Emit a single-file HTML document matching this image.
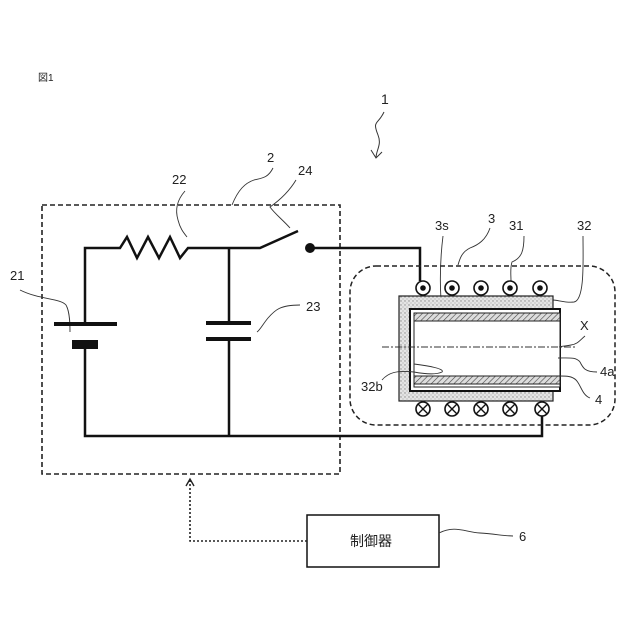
<!DOCTYPE html><html><head><meta charset="utf-8"><style>body{margin:0;background:#fff}svg{display:block}text{font-family:"Liberation Sans","Noto Sans CJK JP",sans-serif;fill:#222}</style></head><body>
<svg width="640" height="640" viewBox="0 0 640 640">
<defs>
<pattern id="dots" width="4" height="4" patternUnits="userSpaceOnUse"><rect width="4" height="4" fill="#e4e4e4"/><circle cx="1" cy="1" r="0.7" fill="#888"/><circle cx="3" cy="3" r="0.6" fill="#aaa"/></pattern>
<pattern id="hatch" width="4" height="4" patternUnits="userSpaceOnUse" patternTransform="rotate(45)"><rect width="4" height="4" fill="#ddd"/><line x1="0" y1="0" x2="0" y2="4" stroke="#444" stroke-width="1.2"/></pattern>
</defs>
<text x="38" y="81" font-size="10">図1</text>
<text x="381" y="104" font-size="14">1</text>
<path d="M384 112 C378 125,372 120,378 135 C382 145,376 150,376 158" fill="none" stroke="#333" stroke-width="1"/>
<path d="M371 150 L376 158 L382 152" fill="none" stroke="#333" stroke-width="1"/>
<!-- box 2 -->
<rect x="42" y="205" width="298" height="269" fill="none" stroke="#222" stroke-width="1.6" stroke-dasharray="5,3"/>
<text x="267" y="162" font-size="13">2</text>
<path d="M273 168 C268 178,262 178,254 180 C245 183,238 190,232 205" fill="none" stroke="#333" stroke-width="0.9"/>
<text x="172" y="184" font-size="13">22</text>
<path d="M185 191 C177 200,175 210,178 220 C180 228,183 232,187 237" fill="none" stroke="#333" stroke-width="0.9"/>
<text x="298" y="175" font-size="13">24</text>
<path d="M296 180 C290 190,280 200,270 207 C275 214,283 220,290 228" fill="none" stroke="#333" stroke-width="0.9"/>
<text x="306" y="311" font-size="13">23</text>
<path d="M300 305 C280 305,275 310,268 318 C263 324,260 330,257 332" fill="none" stroke="#333" stroke-width="0.9"/>
<text x="10" y="280" font-size="13">21</text>
<path d="M20 290 C40 300,60 298,66 305 C70 312,70 325,70 332" fill="none" stroke="#333" stroke-width="0.9"/>
<g stroke="#111" stroke-width="2.5" fill="none">
<polyline points="85,323 85,248 120,248 127,237 137,258 148,237 159,258 170,237 180,258 188,248 260,248 298,231"/>
<line x1="229" y1="248" x2="229" y2="323"/>
<line x1="229" y1="339" x2="229" y2="436"/>
<polyline points="85,348 85,436 542,436 542,416"/>
<polyline points="310,248 420,248 420,281"/>
</g>
<circle cx="310" cy="248" r="5" fill="#111"/>
<rect x="54" y="322" width="63" height="4" fill="#111"/>
<rect x="72" y="340" width="26" height="9" fill="#111"/>
<rect x="206" y="321" width="45" height="4" fill="#111"/>
<rect x="206" y="337" width="45" height="4" fill="#111"/>
<!-- coil box -->
<rect x="350" y="266" width="265" height="159" rx="26" fill="none" stroke="#222" stroke-width="1.5" stroke-dasharray="5,3"/>
<text x="488" y="223" font-size="13">3</text>
<path d="M490 228 C486 240,478 245,470 248 C462 252,460 258,458 265" fill="none" stroke="#333" stroke-width="0.9"/>
<text x="435" y="230" font-size="13">3s</text>
<path d="M443 236 C440 260,438 300,446 335" fill="none" stroke="#333" stroke-width="0.9"/>
<text x="509" y="230" font-size="13">31</text>
<path d="M524 236 C524 250,522 258,512 262 C510 268,511 275,511 281" fill="none" stroke="#333" stroke-width="0.9"/>
<text x="577" y="230" font-size="13">32</text>
<path d="M583 236 C583 260,585 300,574 302 C565 303,558 300,553 300" fill="none" stroke="#333" stroke-width="0.9"/>
<!-- body -->
<rect x="399" y="296" width="154" height="105" fill="url(#dots)" stroke="#222" stroke-width="1.2"/>
<rect x="410" y="309" width="150" height="82" fill="#fff" stroke="#111" stroke-width="2"/>
<rect x="414" y="313" width="146" height="74" fill="#fff" stroke="#222" stroke-width="1"/>
<rect x="414" y="313" width="146" height="8" fill="url(#hatch)" stroke="#222" stroke-width="1"/>
<rect x="414" y="376" width="146" height="8" fill="url(#hatch)" stroke="#222" stroke-width="1"/>
<line x1="382" y1="347" x2="576" y2="347" stroke="#333" stroke-width="0.9" stroke-dasharray="7,2,2,2"/>
<path d="M414 364 C430 366,445 369,442 372 C436 375,425 374,414 372" fill="none" stroke="#333" stroke-width="0.9"/>
<text x="580" y="330" font-size="13">X</text>
<path d="M585 336 C580 340,578 344,571 345 C566 346,562 346,559 347" fill="none" stroke="#333" stroke-width="0.9"/>
<text x="600" y="376" font-size="13">4a</text>
<path d="M597 372 C585 372,583 368,580 362 C576 357,570 358,558 358" fill="none" stroke="#333" stroke-width="0.9"/>
<text x="595" y="404" font-size="13">4</text>
<path d="M590 398 C582 395,581 385,576 380 C572 376,566 376,560 376" fill="none" stroke="#333" stroke-width="0.9"/>
<text x="361" y="391" font-size="13">32b</text>
<path d="M382 380 C388 373,396 370,414 372" fill="none" stroke="#333" stroke-width="0.9"/>
<!-- coils -->
<g stroke="#111" stroke-width="1.6" fill="#fff">
<circle cx="423" cy="288" r="7"/><circle cx="452" cy="288" r="7"/><circle cx="481" cy="288" r="7"/><circle cx="510" cy="288" r="7"/><circle cx="540" cy="288" r="7"/>
<circle cx="423" cy="409" r="7"/><circle cx="452" cy="409" r="7"/><circle cx="481" cy="409" r="7"/><circle cx="510" cy="409" r="7"/><circle cx="542" cy="409" r="7"/>
</g>
<g fill="#111"><circle cx="423" cy="288" r="2.8"/><circle cx="452" cy="288" r="2.8"/><circle cx="481" cy="288" r="2.8"/><circle cx="510" cy="288" r="2.8"/><circle cx="540" cy="288" r="2.8"/></g>
<g stroke="#111" stroke-width="1.4">
<path d="M418 404 l10 10 M428 404 l-10 10"/><path d="M447 404 l10 10 M457 404 l-10 10"/><path d="M476 404 l10 10 M486 404 l-10 10"/><path d="M505 404 l10 10 M515 404 l-10 10"/><path d="M537 404 l10 10 M547 404 l-10 10"/>
</g>
<!-- control -->
<rect x="307" y="515" width="132" height="52" fill="#fff" stroke="#111" stroke-width="1.5"/>
<text x="350" y="546" font-size="14">制御器</text>
<text x="519" y="541" font-size="13">6</text>
<path d="M439 533 C455 525,465 532,480 533 C495 534,505 536,513 536" fill="none" stroke="#333" stroke-width="0.9"/>
<polyline points="307,541 190,541 190,479" fill="none" stroke="#222" stroke-width="1.6" stroke-dasharray="2,2"/>
<path d="M186 486 L190 479 L194 486" fill="none" stroke="#222" stroke-width="1.4"/>
</svg></body></html>
